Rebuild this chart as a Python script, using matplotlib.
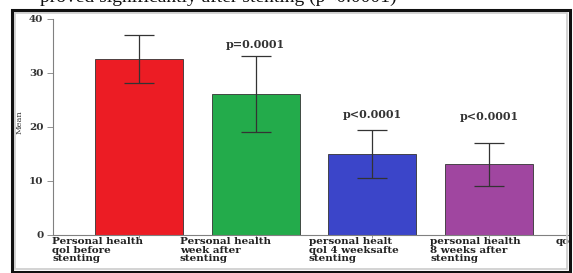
import numpy as np
import matplotlib
matplotlib.use("Agg")
from matplotlib import pyplot as plt
from matplotlib.patches import Rectangle

# data
groups = ["Personal health\nqol before\nstenting",
          "Personal health\nweek after\nstenting",
          "personal healt\nqol 4 weeksafte\nstenting",
          "personal health\n8 weeks after\nstenting"]
means = [32.6, 26.1, 15.0, 13.1]
sds = [4.5, 7.0, 4.4, 4.0]
pvals = ["", "p=0.0001", "p<0.0001", "p<0.0001"]
colors = ["#ec1c24", "#23ab4b", "#3b45c9", "#a046a0"]
yticks = [0, 10, 20, 30, 40]
caption = "proved significantly after stenting (p<0.0001)"

# layout: left edge of each category label, height of each p label
label_dx = [-0.745, -0.65, -0.545, -0.505]
p_y = [0, 35.2, 22.4, 22.0]

fig = plt.figure(figsize=(5.73, 2.73), dpi=100)
ax = fig.add_axes([53/573, 1-235/273, 515/573, 216/273])

x = np.arange(len(means))
ax.bar(x, means, width=0.755, color=colors, edgecolor="#333333", linewidth=0.6, zorder=2)
ax.errorbar(x, means, yerr=sds, fmt="none", ecolor="#333333", elinewidth=0.9,
            capsize=10.5, capthick=0.9, zorder=3)

for xi, p, py in zip(x, pvals, p_y):
    if p:
        ax.text(xi, py, p, ha="center", va="center", fontsize=8,
                family="DejaVu Serif", weight="bold", color="#333333")

ax.set_xlim(-0.737, 3.676)
ax.set_ylim(0, 40)
ax.set_yticks(yticks)
ax.set_yticklabels([str(t) for t in yticks], family="DejaVu Serif", weight="bold",
                   fontsize=7.5, color="#333333")
ax.set_xticks(x)
ax.set_xticklabels([])
ax.tick_params(axis="y", length=4, width=0.6, color="#808080", pad=3)
ax.tick_params(axis="x", length=2, width=0.6, color="#808080")
for sp in ["top", "right"]:
    ax.spines[sp].set_visible(False)
for sp in ["left", "bottom"]:
    ax.spines[sp].set_color("#808080")
    ax.spines[sp].set_linewidth(0.8)

trans = ax.get_xaxis_transform()
for xi, lab, dx in zip(x, groups, label_dx):
    ax.text(xi + dx, -0.01, lab, transform=trans, ha="left", va="top",
            fontsize=7.5, family="DejaVu Serif", weight="bold", linespacing=0.92,
            color="#222222", clip_on=False)
ax.text(3.573, -0.01, "qo", transform=trans, ha="left", va="top", fontsize=7.5,
        family="DejaVu Serif", weight="bold", color="#222222", clip_on=False)

fig.text(20/573, 1-122/273, "Mean", rotation=90, ha="center", va="center",
         fontsize=6, family="DejaVu Serif", color="#333333")

# frame and cut-off caption of the screenshot
fig.patches.append(Rectangle((12/573, 1.2/273), 558/573, 261.8/273, transform=fig.transFigure,
                             fill=False, edgecolor="#111111", linewidth=2.2, zorder=5))
fig.patches.append(Rectangle((15/573, 4/273), 552/573, 256/273, transform=fig.transFigure,
                             fill=False, edgecolor="#cccccc", linewidth=1.2, zorder=1))
fig.text(40/573, 1-1.5/273, caption, ha="left", va="baseline", fontsize=14,
         family="Liberation Serif", color="#111111")

fig.savefig("out.png", dpi=100)
